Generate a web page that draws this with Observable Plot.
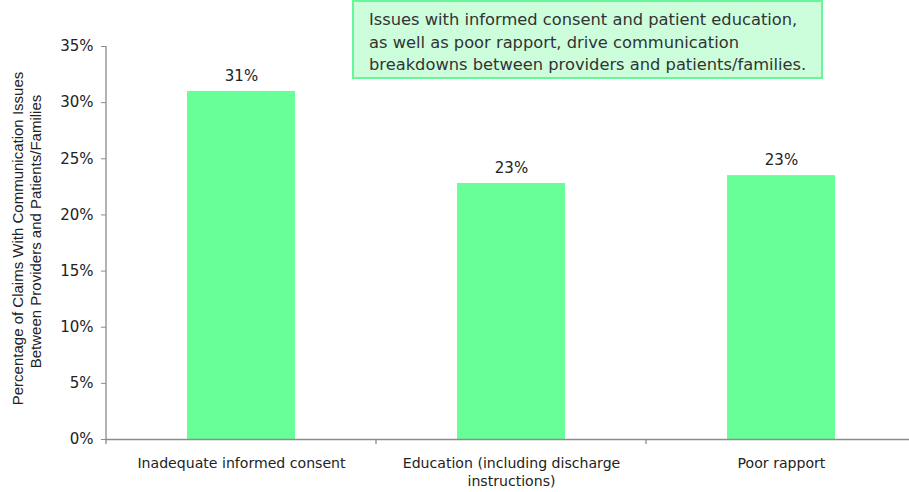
<!DOCTYPE html>
<html><head><meta charset="utf-8">
<script src="https://cdn.jsdelivr.net/npm/d3@7"></script>
<script src="https://cdn.jsdelivr.net/npm/@observablehq/plot@0.6"></script>
<style>
html,body{margin:0;padding:0;background:#fff;overflow:hidden;width:909px;height:492px;}
#wrap{position:relative;width:909px;height:492px;overflow:hidden;font-family:"DejaVu Sans",sans-serif;}
#chart svg{max-width:none !important;}
#note{position:absolute;left:352px;top:0px;width:467px;height:75px;background:#ccfedb;border:2px solid #6af59a;box-sizing:content-box;color:#333;font-size:16.3px;line-height:22.5px;padding:0;}
#note div{position:absolute;left:15px;top:7px;white-space:nowrap;}
</style></head>
<body><div id="wrap"><div id="chart"></div><div id="note"><div>Issues with informed consent and patient education,<br>as well as poor rapport, drive communication<br>breakdowns between providers and patients/families.</div></div></div>
<script>
const categories = ["Inadequate informed consent", "Education (including discharge instructions)", "Poor rapport"];
const tickLabels = ["Inadequate informed consent", "Education (including discharge\ninstructions)", "Poor rapport"];
const values = [0.31, 0.228, 0.235];
const valueLabels = ["31%", "23%", "23%"];
const yTicks = [0, 0.05, 0.10, 0.15, 0.20, 0.25, 0.30, 0.35];
const yTitle = ["Percentage of Claims With Communication Issues", "Between Providers and Patients/Families"];

const data = categories.map((c, i) => ({cat: c, value: values[i], label: valueLabels[i]}));
const axisColor = "#8c8c8c";

const plot = Plot.plot({
  width: 916, height: 492,
  marginLeft: 106, marginRight: 0, marginTop: 46, marginBottom: 53,
  style: {fontFamily: "DejaVu Sans, sans-serif", fontSize: "13px", color: "#222", background: "white", overflow: "visible"},
  x: {domain: categories, paddingInner: 0.6, paddingOuter: 0.3, label: null},
  y: {domain: [0, 0.35], label: null},
  marks: [
    Plot.barY(data, {x: "cat", y: "value", fill: "#69ff98"}),
    Plot.text(data, {x: "cat", y: "value", text: "label", dy: -15, fontSize: 15, fill: "#222"}),
    Plot.axisY({ticks: yTicks, tickFormat: d => Math.round(d * 100) + "%", tickSize: 5, tickPadding: 8, fontSize: 15, stroke: axisColor, label: null}),
    Plot.axisX({tickSize: 0, tickPadding: 15, fontSize: 14.1, tickFormat: (d) => tickLabels[categories.indexOf(d)], lineHeight: 1.3, label: null}),
    Plot.ruleY([0], {stroke: axisColor, strokeWidth: 1.3})
  ]
});

document.getElementById("chart").appendChild(plot);

// y axis line and category boundary ticks, from the x scale
const xs = plot.scale("x"), ys = plot.scale("y");
const svg = d3.select(plot);
const left = xs.range[0];
svg.append("line").attr("x1", left).attr("x2", left).attr("y1", ys.apply(0.35)).attr("y2", ys.apply(0))
  .attr("stroke", axisColor).attr("stroke-width", 1.3);
categories.concat([null]).forEach((c, i) => {
  const bx = left + i * xs.step;
  svg.append("line").attr("x1", bx).attr("x2", bx).attr("y1", ys.apply(0)).attr("y2", ys.apply(0) + 5)
    .attr("stroke", axisColor).attr("stroke-width", 1.3);
});
// y title, two rotated lines
const cy = (ys.apply(0) + ys.apply(0.35)) / 2 - 4;
const t = svg.append("text").attr("transform", `translate(22.5,${cy}) rotate(-90)`)
  .attr("text-anchor", "middle").attr("font-size", 15).attr("fill", "#222")
  .attr("font-family", "Liberation Sans, Arial, sans-serif");
yTitle.forEach((s, i) => t.append("tspan").attr("x", i === 0 ? 0 : 7).attr("dy", i === 0 ? 0 : 18).text(s));
</script>
</body></html>
